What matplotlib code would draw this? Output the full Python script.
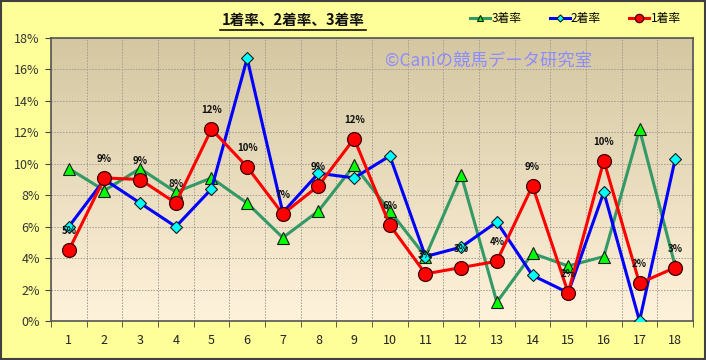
import numpy as np
import matplotlib
matplotlib.use("Agg")
import matplotlib.pyplot as plt
from matplotlib.patches import Rectangle
from matplotlib.lines import Line2D

plt.rcParams['font.family'] = ['Noto Sans CJK JP', 'DejaVu Sans']

# 馬番 1〜18
umaban = [str(i) for i in range(1, 19)]
# 1着率, 2着率, 3着率 (%)
rate1 = [4.5, 9.1, 9.0, 7.5, 12.2, 9.8, 6.8, 8.6, 11.6, 6.1, 3.0, 3.4, 3.8, 8.6, 1.8, 10.2, 2.4, 3.4]
rate2 = [6.0, 9.0, 7.5, 6.0, 8.4, 16.7, 6.9, 9.4, 9.1, 10.5, 4.1, 4.7, 6.3, 2.9, 1.8, 8.2, 0.0, 10.3]
rate3 = [9.7, 8.3, 9.7, 8.2, 9.1, 7.5, 5.3, 7.0, 9.9, 7.0, 4.1, 9.3, 1.2, 4.3, 3.5, 4.1, 12.2, 3.5]
yticks = [0, 2, 4, 6, 8, 10, 12, 14, 16, 18]

x = np.arange(len(umaban))

fig = plt.figure(figsize=(7.06, 3.6), dpi=100)
fig.patch.set_facecolor('#FFFF99')
fig.patches.append(Rectangle((0.001, 0.002), 0.997, 0.995, transform=fig.transFigure,
                             fill=False, edgecolor='#404040', linewidth=1.5))

ax = fig.add_axes([0.0722, 0.1083, 0.9094, 0.7861])

# グラデーション背景
grad = np.linspace(0, 1, 256).reshape(-1, 1)
top = np.array([0.83, 0.78, 0.63])
bot = np.array([1.0, 0.95, 0.86])
img = top + (bot - top) * grad[..., None]
ax.imshow(img, extent=[0, 1, 0, 1], transform=ax.transAxes, aspect='auto', zorder=0)

ax.plot(x, rate3, '-^', color='#339966', lw=2.2, ms=8, mfc='#00FF00', mec='#1a1a1a', mew=0.8,
        label='3着率', zorder=3)
ax.plot(x, rate2, '-D', color='#0000FF', lw=2.2, ms=6, mfc='#00FFFF', mec='#1a1a1a', mew=0.8,
        label='2着率', zorder=4)
ax.plot(x, rate1, '-o', color='#FF0000', lw=2.2, ms=10, mfc='#FF0000', mec='#400000', mew=0.9,
        label='1着率', zorder=5)

for xi, v in zip(x, rate1):
    ax.annotate(f'{int(v + 0.5):d}%', (xi, v), xytext=(0, 10), textcoords='offset points',
                ha='center', va='bottom', fontsize=7, fontweight='bold', color='#111111', zorder=6)

ax.set_xlim(-0.5, len(umaban) - 0.5)
ax.set_ylim(0, 18)
ax.set_xticks(x)
ax.set_xticklabels(umaban)
ax.set_xticks(np.arange(-0.5, len(umaban)), minor=True)
ax.set_yticks(yticks)
ax.set_yticklabels([f'{t}%' for t in yticks])
ax.tick_params(axis='x', which='major', length=0, pad=9, labelsize=9, labelcolor='#222222')
ax.tick_params(axis='x', which='minor', length=4, color='#444444')
ax.tick_params(axis='y', which='major', length=4, color='#444444', labelsize=9, labelcolor='#333333', pad=4)
ax.grid(which='major', axis='y', linestyle=(0, (1.5, 1.5)), color='#a09a90', linewidth=0.7)
ax.grid(which='minor', axis='x', linestyle=(0, (1.5, 1.5)), color='#a09a90', linewidth=0.7)
ax.set_axisbelow(True)
for s in ax.spines.values():
    s.set_color('#555555')
    s.set_linewidth(1.2)

ax.text(0.52, 0.92, '©Caniの競馬データ研究室', transform=ax.transAxes, fontsize=12.5,
        color='#8C8CFF', ha='left', va='center', zorder=2)

# タイトル（下線付き）
fig.text(0.415, 0.945, '1着率、2着率、3着率', ha='center', va='center', fontsize=10.5,
         fontweight='bold', color='#111111')
fig.lines.append(Line2D([0.311, 0.518], [0.918, 0.918], transform=fig.transFigure,
                        color='#111111', linewidth=1.2))

fig.legend(loc='center', bbox_to_anchor=(0.815, 0.948), ncol=3, frameon=False, fontsize=8.5,
           handlelength=1.7, handletextpad=0.1, columnspacing=2.4, markerscale=0.6)

fig.savefig('out.png', dpi=100, facecolor=fig.get_facecolor())
